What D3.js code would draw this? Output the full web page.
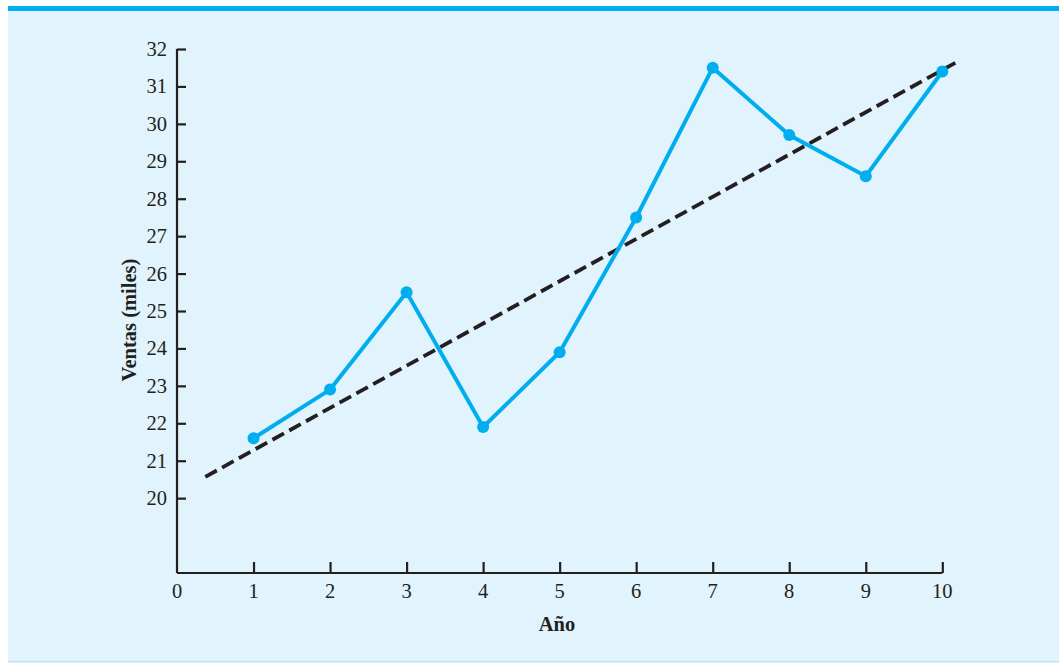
<!DOCTYPE html>
<html>
<head>
<meta charset="utf-8">
<script src="https://cdn.jsdelivr.net/npm/d3@7/dist/d3.min.js"></script>
<style>
  html, body { margin: 0; padding: 0; background: #ffffff; }
  svg { display: block; }
</style>
</head>
<body>
<svg id="chart" width="1059" height="664"></svg>
<script>
// Data
const years = [1, 2, 3, 4, 5, 6, 7, 8, 9, 10];
const sales = [21.6, 22.9, 25.5, 21.9, 23.9, 27.5, 31.5, 29.7, 28.6, 31.4];
const trendX = [0.37, 10.17];
const trendY = [20.57, 31.63];
const xTicks = [1, 2, 3, 4, 5, 6, 7, 8, 9, 10];
const yTicks = [20, 21, 22, 23, 24, 25, 26, 27, 28, 29, 30, 31, 32];
const xLabel = "Año";
const yLabel = "Ventas (miles)";

const svg = d3.select("#chart");
const W = 1059, H = 664;

// Panel background
svg.append("rect").attr("x", 8).attr("y", 6).attr("width", W - 8).attr("height", 656)
  .attr("fill", "#e1f3fc");
svg.append("rect").attr("x", 8).attr("y", 6).attr("width", W - 8).attr("height", 5)
  .attr("fill", "#00aeef");
svg.append("rect").attr("x", 8).attr("y", 661).attr("width", W - 8).attr("height", 1.5)
  .attr("fill", "#bfe3f5");

const x = d3.scaleLinear().domain([0, 10]).range([177, 942.3]);
const y = d3.scaleLinear().domain([18, 32]).range([573, 49]);

const font = "'Liberation Serif', 'Times New Roman', serif";
const axisColor = "#231f20";

// Axes
const gx = svg.append("g").attr("transform", `translate(0,${y(18)})`)
  .call(d3.axisBottom(x).tickValues(xTicks).tickSize(-11).tickSizeOuter(0).tickFormat(""));
const gy = svg.append("g").attr("transform", `translate(${x(0)},0)`)
  .call(d3.axisLeft(y).tickValues(yTicks).tickSize(-9).tickSizeOuter(0).tickFormat(""));
[gx, gy].forEach(g => {
  g.select(".domain").attr("stroke", axisColor).attr("stroke-width", 2.2);
  g.selectAll(".tick line").attr("stroke", axisColor).attr("stroke-width", 2.2);
});
gx.select(".domain").attr("d", `M${x(0)},0H${x(10)}`);
gy.select(".domain").attr("d", `M0,${y(18)}V${y(32)}`);

// Tick labels
svg.append("g").selectAll("text").data([0].concat(xTicks)).join("text")
  .attr("x", d => x(d)).attr("y", 598)
  .attr("text-anchor", "middle")
  .attr("font-family", font).attr("font-size", 20.5).attr("fill", axisColor)
  .text(d => d);
svg.append("g").selectAll("text").data(yTicks).join("text")
  .attr("x", x(0) - 10).attr("y", d => y(d) + 7)
  .attr("text-anchor", "end")
  .attr("font-family", font).attr("font-size", 20.5).attr("fill", axisColor)
  .text(d => d);

// Axis titles
svg.append("text").attr("x", 557).attr("y", 631).attr("text-anchor", "middle")
  .attr("font-family", font).attr("font-size", 20.5).attr("font-weight", "bold")
  .attr("fill", axisColor).text(xLabel);
svg.append("text").attr("transform", `translate(136,320) rotate(-90)`)
  .attr("text-anchor", "middle")
  .attr("font-family", font).attr("font-size", 20.5).attr("font-weight", "bold")
  .attr("fill", axisColor).text(yLabel);

// Trend line
const line = d3.line().x(d => x(d[0])).y(d => y(d[1]));
const trend = svg.append("path").datum(trendX.map((v, i) => [v, trendY[i]]))
  .attr("d", line).attr("fill", "none")
  .attr("stroke", axisColor).attr("stroke-width", 3.8);
const L = trend.node().getTotalLength();
const ratio = 13 / 19;
const n = Math.round((L - 13) / 19);
const per = L / (n + ratio);
trend.attr("stroke-dasharray", `${(per * ratio).toFixed(3)},${(per * (1 - ratio)).toFixed(3)}`);

// Sales series
const pts = years.map((v, i) => [v, sales[i]]);
svg.append("path").datum(pts).attr("d", line).attr("fill", "none")
  .attr("stroke", "#00aeef").attr("stroke-width", 4).attr("stroke-linejoin", "miter");
svg.append("g").selectAll("circle").data(pts).join("circle")
  .attr("cx", d => x(d[0])).attr("cy", d => y(d[1])).attr("r", 6)
  .attr("fill", "#00aeef");
</script>
</body>
</html>
